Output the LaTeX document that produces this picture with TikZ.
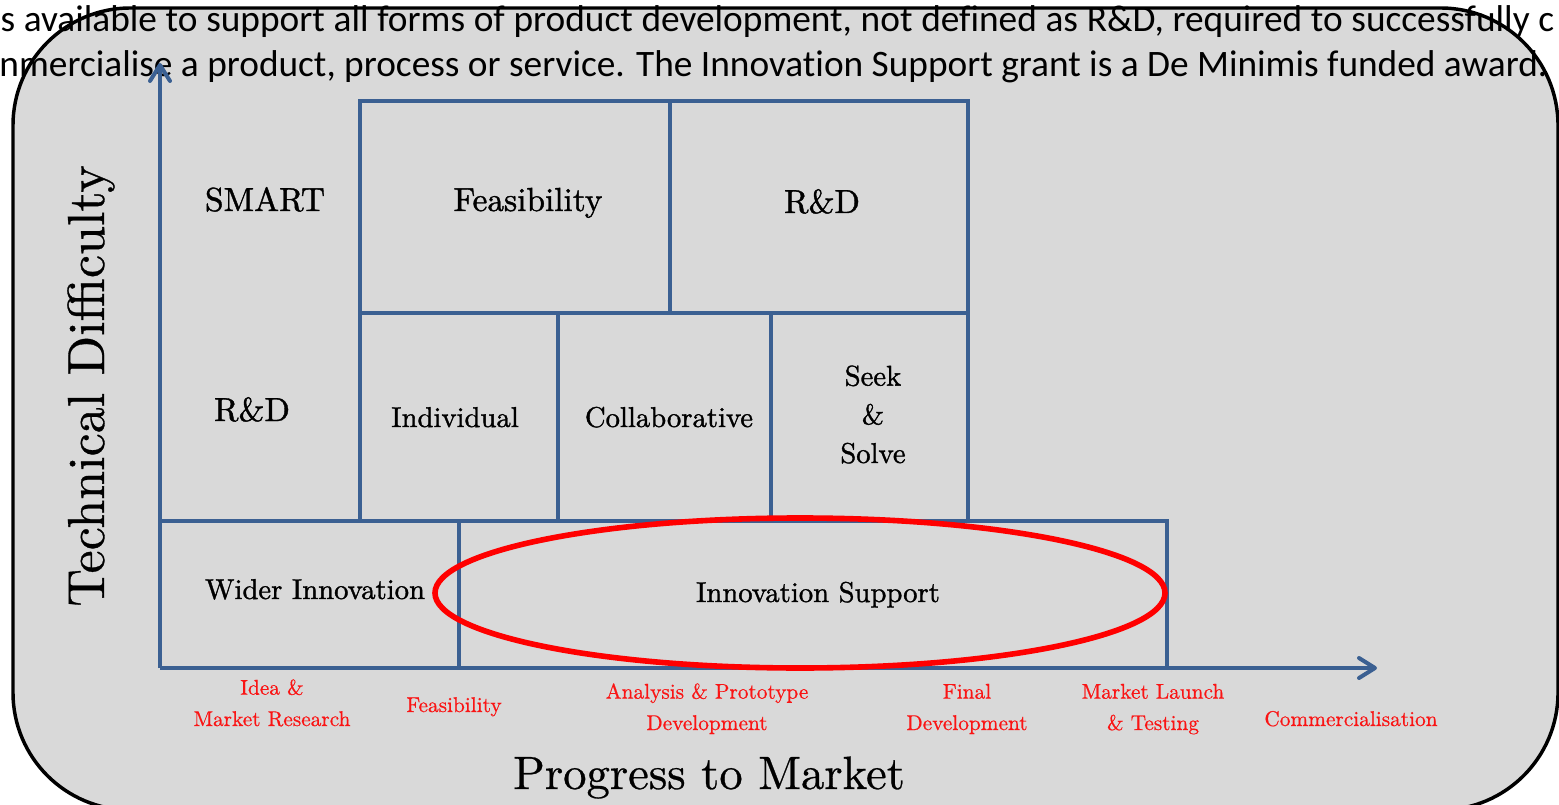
\documentclass[tikz,border=0pt]{standalone}
\usepackage{fontspec}
\newfontfamily\notefont{Carlito}[Ligatures=NoCommon]
\newfontfamily\cmfont{lmroman10-regular.otf}[FakeBold=1.2]
\newfontfamily\cmplain{lmroman10-regular.otf}[FakeBold=0.6]
\usepackage{tikz}
\usetikzlibrary{arrows.meta}
\definecolor{axisblue}{RGB}{59,96,146}
\definecolor{panelgrey}{RGB}{217,217,217}
\definecolor{ringred}{RGB}{255,0,0}
\definecolor{stagered}{RGB}{250,20,20}
\tikzset{every picture/.style={line width=0.75pt},
  panel/.style={draw=black,fill=panelgrey,line width=2.6pt,rounded corners=88pt},
  cell/.style={draw=axisblue,line width=2.6pt,line cap=rect},
  axis/.style={draw=axisblue,line width=3pt,-{Straight Barb[length=12pt,width=15pt,line cap=round,line join=round]}},
  ring/.style={draw=ringred,line width=4.2pt},
  note/.style={anchor=base west,inner sep=0pt,font=\notefont\fontsize{28}{33}\selectfont},
  biglbl/.style={anchor=base,inner sep=0pt,font=\cmfont\fontsize{25}{30}\selectfont},
  lbl/.style={anchor=base,inner sep=0pt,align=center,font=\cmfont\fontsize{21.5}{29}\selectfont},
  stage/.style={anchor=base,inner sep=0pt,align=center,text=stagered,font=\cmplain\fontsize{16}{23.5}\selectfont},
  axislbl/.style={anchor=base,inner sep=0pt}}

\begin{document}
\begin{tikzpicture}[x=0.75pt,y=0.75pt,yscale=-1,xscale=1]
	\useasboundingbox (0,0) rectangle (1559,805);
	
	%Shape: Rounded Rect
	\draw [panel] (13,8) rectangle (1558,810);
	
	% Text Node
	\node (noteone) [note] at (0,32) {\spaceskip=6.55pt\relax s available to support all forms of product development, not defined as R\&D, required to successfully c};
	% Text Node
	\node (notetwo) [note] at (-1,77) {nmercialise a product, process or service. The Innovation Support grant is a De Minimis funded award.};
	
	%Straight Lines: cells
	\draw [cell] (360,101) -- (968,101) ;
	\draw [cell] (360,313) -- (968,313) ;
	\draw [cell] (160,521) -- (1167,521) ;
	\draw [cell] (360,101) -- (360,521) ;
	\draw [cell] (670,101) -- (670,313) ;
	\draw [cell] (968,101) -- (968,521) ;
	\draw [cell] (558,313) -- (558,521) ;
	\draw [cell] (771,313) -- (771,521) ;
	\draw [cell] (459,521) -- (459,668) ;
	\draw [cell] (1167,521) -- (1167,668) ;
	
	%Axes
	\coordinate (origin) at (160,668);
	\coordinate (ytip) at (160,63);
	\coordinate (xtip) at (1377,668);
	\draw [axis] (origin) -- (ytip) ;
	\draw [axis] (origin) -- (xtip) ;
	
	%Shape: Ellipse
	\draw [ring] (800,593) ellipse [x radius=365, y radius=75];
	
	% Text Node
	\node (smart) [biglbl] at (265,211) {SMART};
	% Text Node
	\node (feas) [biglbl] at (528,211) {Feasibility};
	% Text Node
	\node (rdtop) [biglbl] at (822,213) {R\&D};
	% Text Node
	\node (rdleft) [biglbl] at (252,421) {R\&D};
	% Text Node
	\node (indiv) [lbl] at (455,427) {Individual};
	% Text Node
	\node (collab) [lbl] at (669,427) {Collaborative};
	% Text Node
	\node (seek) [lbl] at (873,463) {Seek\\\&\\Solve};
	% Text Node
	\node (wider) [lbl] at (315,599) {Wider Innovation};
	% Text Node
	\node (support) [lbl] at (818,602) {Innovation Support};
	
	% Text Node
	\node (idea) [stage] at (272,726) {Idea \&\\Market Research};
	% Text Node
	\node (feasst) [stage] at (454,712) {Feasibility};
	% Text Node
	\node (proto) [stage] at (707,730) {Analysis \& Prototype\\Development};
	% Text Node
	\node (final) [stage] at (967,730) {Final\\Development};
	% Text Node
	\node (launch) [stage] at (1153,730) {Market Launch\\\& Testing};
	% Text Node
	\node (comm) [stage] at (1351,726) {Commercialisation};
	
	% Text Node
	\node (ylabel) [axislbl,rotate=90,font=\cmplain\fontsize{39}{44}\selectfont] at (104,386) {Technical Difficulty};
	% Text Node
	\node (xlabel) [axislbl,font=\cmplain\fontsize{35}{40}\selectfont] at (709,789) {Progress to Market};
	
\end{tikzpicture}
\end{document}
